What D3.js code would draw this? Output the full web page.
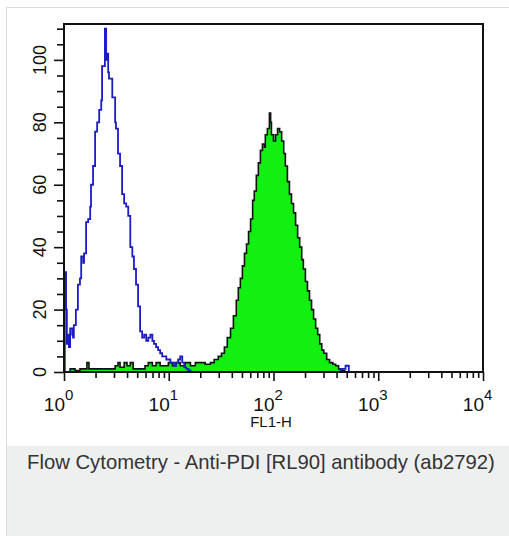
<!DOCTYPE html>
<html>
<head>
<meta charset="utf-8">
<script src="https://cdn.jsdelivr.net/npm/d3@7"></script>
<style>
  body { margin: 0; background: #fff; }
  svg { display: block; font-family: "Liberation Sans", Arial, sans-serif; }
</style>
</head>
<body>
<svg id="chart" width="509" height="536"></svg>
<script>
// log amplifier channels (1024 over 4 decades) and event counts
const isoChannels = [0, 2, 5, 7, 10, 12, 15, 20, 22, 24, 29, 34, 39, 42, 47, 49, 54, 59, 64, 66, 71, 76, 81, 86, 91, 93, 98, 100, 103, 105, 108, 110, 113, 118, 120, 125, 127, 132, 137, 142, 147, 152, 157, 162, 167, 171, 176, 181, 186, 191, 196, 201, 206, 211, 216, 220, 225, 230, 235, 240, 245, 250, 255, 260, 265, 269, 274, 279, 284, 289, 294, 299, 304, 309, 314, 676, 688, 696, 701];
const isoCounts = [0, 32, 20, 9, 12, 8, 14, 12, 11, 15, 20, 28, 30, 37, 35, 38, 48, 49, 53, 60, 66, 77, 80, 84, 87, 98, 98, 110, 100, 102, 96, 94, 94, 88, 88, 80, 78, 70, 66, 57, 54, 53, 50, 40, 37, 33, 28, 21, 13, 11, 12, 10, 11, 12, 10, 9, 8, 7, 6, 5, 5, 4, 4, 3, 3, 2, 3, 4, 5, 3, 1.5, 1, 0.5, 0, 0, 1, 2, 0, 0];

const pdiChannels = [0, 2, 15, 27, 39, 51, 56, 61, 76, 88, 113, 125, 132, 137, 147, 154, 162, 169, 186, 198, 206, 216, 225, 235, 245, 255, 265, 274, 284, 296, 309, 321, 333, 345, 358, 367, 377, 385, 392, 399, 407, 414, 421, 426, 431, 436, 441, 446, 451, 456, 461, 465, 470, 475, 480, 485, 490, 492, 497, 502, 505, 507, 512, 517, 522, 527, 532, 537, 541, 546, 551, 556, 561, 566, 571, 576, 581, 585, 590, 595, 600, 605, 610, 615, 620, 625, 630, 635, 642, 649, 657, 664, 671, 679, 686];
const pdiCounts = [0, 0, 1, 0.5, 1, 1, 3, 1, 1, 1, 1, 2, 3, 1.5, 3, 2, 3, 1, 1, 2, 3, 2, 3, 2, 2, 3, 2, 3, 2, 3, 2, 3, 3, 2.5, 3, 4, 5, 6, 8, 11, 14, 18, 23, 27, 30, 34, 38, 41, 45, 49, 55, 58, 63, 67, 71, 73, 72, 76, 78, 83, 80, 76, 74, 76, 78, 77, 74, 70, 66, 61, 57, 54, 51, 47, 43, 40, 36, 33, 29, 26, 23, 20, 17, 14, 12, 9, 7, 6, 4, 3, 2.5, 2, 1, 0.5, 0];

const decades = [1, 10, 100, 1000, 10000];
const yMajor = [0, 20, 40, 60, 80, 100];
const caption = "Flow Cytometry - Anti-PDI [RL90] antibody (ab2792)";

const plot = { left: 64, top: 24, right: 483, bottom: 372 };
const chToValue = (ch) => Math.pow(10, ch / 256);

const svg = d3.select("#chart");

// card + caption panel
svg.append("rect").attr("x", 6.5).attr("y", 7.5).attr("width", 510).attr("height", 540)
  .attr("fill", "#fff").attr("stroke", "#dcdcdc");
svg.append("rect").attr("x", 7).attr("y", 446).attr("width", 510).attr("height", 100)
  .attr("fill", "#eef0ef");
svg.append("text").attr("x", 27).attr("y", 469).attr("font-size", 20.3).attr("fill", "#333")
  .text(caption);

const x = d3.scaleLog().domain([1, 10000]).range([plot.left, plot.right]);
const y = d3.scaleLinear().domain([0, 111.5]).range([plot.bottom, plot.top]);

const pdi = pdiChannels.map((c, i) => ({ v: chToValue(c), n: pdiCounts[i] }));
const iso = isoChannels.map((c, i) => ({ v: chToValue(c), n: isoCounts[i] }));

const area = d3.area().curve(d3.curveStepAfter)
  .x((d) => x(d.v)).y0(y(0)).y1((d) => y(d.n));
const line = d3.line().curve(d3.curveStepAfter)
  .x((d) => x(d.v)).y((d) => y(d.n));

svg.append("path").datum(pdi).attr("d", area).attr("fill", "#12f012");
svg.append("path").datum(pdi).attr("d", line).attr("fill", "none")
  .attr("stroke", "#111").attr("stroke-width", 1.6);
svg.append("path").datum(iso).attr("d", line).attr("fill", "none")
  .attr("stroke", "#1c1cc4").attr("stroke-width", 1.8);

// frame
svg.append("rect").attr("x", plot.left).attr("y", plot.top)
  .attr("width", plot.right - plot.left).attr("height", plot.bottom - plot.top)
  .attr("fill", "none").attr("stroke", "#111").attr("stroke-width", 2);

// x axis: decade + minor ticks
const xTicks = [];
decades.slice(0, -1).forEach((d) => { for (let k = 1; k < 10; k++) xTicks.push(d * k); });
xTicks.push(10000);
svg.append("g")
  .attr("transform", `translate(0, ${plot.bottom})`)
  .call(d3.axisBottom(x).tickValues(xTicks).tickFormat("").tickSize(6).tickSizeOuter(0))
  .call((g) => g.select(".domain").remove())
  .call((g) => g.selectAll(".tick line").attr("stroke", "#111").attr("stroke-width", 1.6)
    .filter((d) => decades.includes(d)).attr("y2", 9));

const xl = svg.append("g").attr("fill", "#111");
decades.forEach((d, i) => {
  xl.append("text").attr("x", x(d) + 1).attr("y", 411).attr("text-anchor", "end")
    .attr("font-size", 19).text("10");
  xl.append("text").attr("x", x(d) + 1).attr("y", 400).attr("font-size", 15).text(i);
});
svg.append("text").attr("x", 271).attr("y", 427).attr("text-anchor", "middle")
  .attr("font-size", 15).attr("fill", "#111").text("FL1-H");

// y axis
svg.append("g")
  .attr("transform", `translate(${plot.left}, 0)`)
  .call(d3.axisLeft(y).tickValues(d3.range(0, 111, 5)).tickFormat("").tickSize(7).tickSizeOuter(0))
  .call((g) => g.select(".domain").remove())
  .call((g) => g.selectAll(".tick line").attr("stroke", "#111").attr("stroke-width", 1.6)
    .filter((d) => yMajor.includes(d)).attr("x2", -10));

svg.append("g").selectAll("text").data(yMajor).join("text")
  .attr("transform", (d) => `translate(46, ${y(d)}) rotate(-90)`)
  .attr("text-anchor", "middle")
  .attr("font-size", 18).attr("fill", "#111")
  .text((d) => d);
</script>
</body>
</html>
